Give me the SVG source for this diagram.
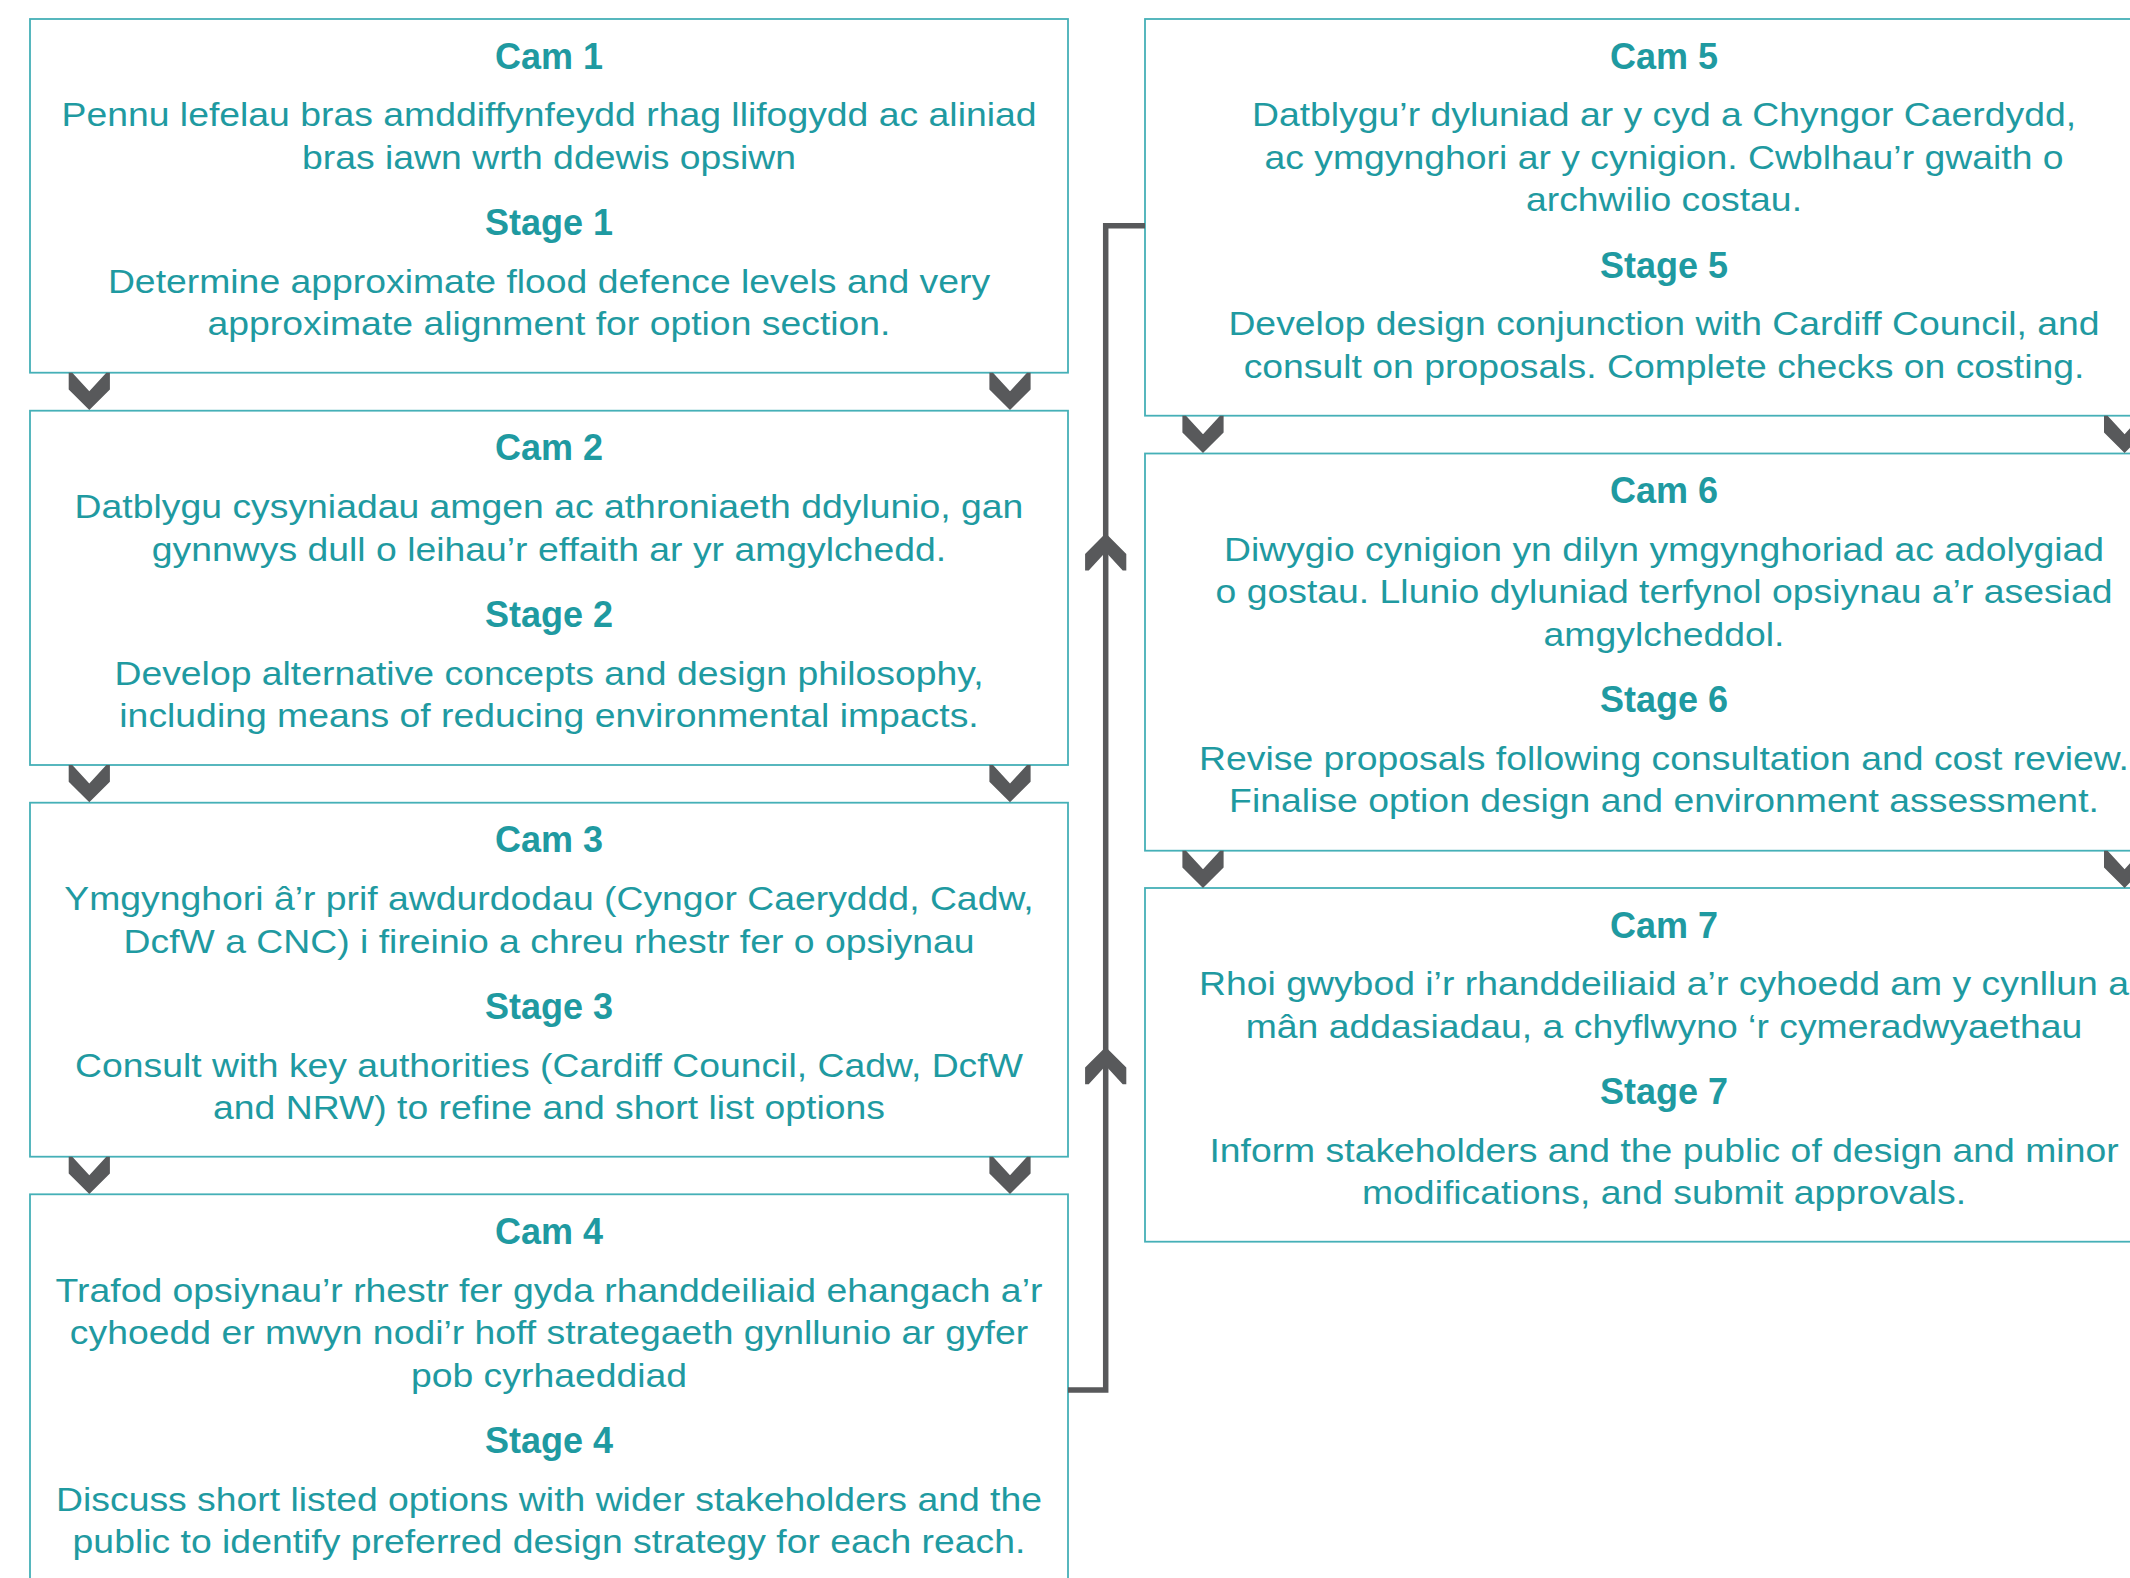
<svg xmlns="http://www.w3.org/2000/svg" xmlns:xlink="http://www.w3.org/1999/xlink" width="2130" height="1578" viewBox="0 0 2130 1578">
<style>
.box{fill:#ffffff;stroke:#45b0b7;stroke-width:1.8}
.t{font-family:"Liberation Sans",Arial,sans-serif;fill:#1f9aa1;text-anchor:middle}
.h{font-size:36px;font-weight:bold}
.b{font-size:33px}
.chev{fill:#58595b}
.conn{fill:none;stroke:#58595b;stroke-width:5.5;stroke-linejoin:miter}
</style>
<defs>
<path id="chev" d="M-20.6,0 V16.7 L0,37.3 L20.6,16.7 V0 H17 L0,18.5 L-17,0 Z"/>
</defs>
<rect width="2130" height="1578" fill="#ffffff"/>

<g id="node1">
<rect class="box" x="30" y="19" width="1038" height="353.7"/>
<text class="t h" x="549" y="68.7">Cam 1</text>
<g transform="translate(549,0) scale(1.132,1)">
<text class="t b" x="0" y="126.5">Pennu lefelau bras amddiffynfeydd rhag llifogydd ac aliniad</text>
<text class="t b" x="0" y="169">bras iawn wrth ddewis opsiwn</text>
</g>
<text class="t h" x="549" y="235">Stage 1</text>
<g transform="translate(549,0) scale(1.132,1)">
<text class="t b" x="0" y="293">Determine approximate flood defence levels and very</text>
<text class="t b" x="0" y="335.5">approximate alignment for option section.</text>
</g>
</g>

<g id="node2">
<rect class="box" x="30" y="410.7" width="1038" height="354.3"/>
<text class="t h" x="549" y="460.4">Cam 2</text>
<g transform="translate(549,0) scale(1.132,1)">
<text class="t b" x="0" y="518.2">Datblygu cysyniadau amgen ac athroniaeth ddylunio, gan</text>
<text class="t b" x="0" y="560.7">gynnwys dull o leihau’r effaith ar yr amgylchedd.</text>
</g>
<text class="t h" x="549" y="626.7">Stage 2</text>
<g transform="translate(549,0) scale(1.132,1)">
<text class="t b" x="0" y="684.7">Develop alternative concepts and design philosophy,</text>
<text class="t b" x="0" y="727.2">including means of reducing environmental impacts.</text>
</g>
</g>

<g id="node3">
<rect class="box" x="30" y="802.7" width="1038" height="354"/>
<text class="t h" x="549" y="852.4">Cam 3</text>
<g transform="translate(549,0) scale(1.132,1)">
<text class="t b" x="0" y="910.2">Ymgynghori â’r prif awdurdodau (Cyngor Caeryddd, Cadw,</text>
<text class="t b" x="0" y="952.7">DcfW a CNC) i fireinio a chreu rhestr fer o opsiynau</text>
</g>
<text class="t h" x="549" y="1018.7">Stage 3</text>
<g transform="translate(549,0) scale(1.132,1)">
<text class="t b" x="0" y="1076.7">Consult with key authorities (Cardiff Council, Cadw, DcfW</text>
<text class="t b" x="0" y="1119.2">and NRW) to refine and short list options</text>
</g>
</g>

<g id="node4">
<rect class="box" x="30" y="1194.3" width="1038" height="420"/>
<text class="t h" x="549" y="1244">Cam 4</text>
<g transform="translate(549,0) scale(1.132,1)">
<text class="t b" x="0" y="1301.8">Trafod opsiynau’r rhestr fer gyda rhanddeiliaid ehangach a’r</text>
<text class="t b" x="0" y="1344.3">cyhoedd er mwyn nodi’r hoff strategaeth gynllunio ar gyfer</text>
<text class="t b" x="0" y="1386.8">pob cyrhaeddiad</text>
</g>
<text class="t h" x="549" y="1452.8">Stage 4</text>
<g transform="translate(549,0) scale(1.132,1)">
<text class="t b" x="0" y="1510.8">Discuss short listed options with wider stakeholders and the</text>
<text class="t b" x="0" y="1553.3">public to identify preferred design strategy for each reach.</text>
</g>
</g>

<g id="node5">
<rect class="box" x="1145" y="19" width="1038" height="396.7"/>
<text class="t h" x="1664" y="68.7">Cam 5</text>
<g transform="translate(1664,0) scale(1.132,1)">
<text class="t b" x="0" y="126.5">Datblygu’r dyluniad ar y cyd a Chyngor Caerdydd,</text>
<text class="t b" x="0" y="169">ac ymgynghori ar y cynigion. Cwblhau’r gwaith o</text>
<text class="t b" x="0" y="211.5">archwilio costau.</text>
</g>
<text class="t h" x="1664" y="277.5">Stage 5</text>
<g transform="translate(1664,0) scale(1.132,1)">
<text class="t b" x="0" y="335.5">Develop design conjunction with Cardiff Council, and</text>
<text class="t b" x="0" y="378">consult on proposals. Complete checks on costing.</text>
</g>
</g>

<g id="node6">
<rect class="box" x="1145" y="453.5" width="1038" height="397.2"/>
<text class="t h" x="1664" y="503.2">Cam 6</text>
<g transform="translate(1664,0) scale(1.132,1)">
<text class="t b" x="0" y="561">Diwygio cynigion yn dilyn ymgynghoriad ac adolygiad</text>
<text class="t b" x="0" y="603.5">o gostau. Llunio dyluniad terfynol opsiynau a’r asesiad</text>
<text class="t b" x="0" y="646">amgylcheddol.</text>
</g>
<text class="t h" x="1664" y="712">Stage 6</text>
<g transform="translate(1664,0) scale(1.132,1)">
<text class="t b" x="0" y="770">Revise proposals following consultation and cost review.</text>
<text class="t b" x="0" y="812.5">Finalise option design and environment assessment.</text>
</g>
</g>

<g id="node7">
<rect class="box" x="1145" y="888" width="1038" height="353.7"/>
<text class="t h" x="1664" y="937.7">Cam 7</text>
<g transform="translate(1664,0) scale(1.132,1)">
<text class="t b" x="0" y="995.5">Rhoi gwybod i’r rhanddeiliaid a’r cyhoedd am y cynllun a</text>
<text class="t b" x="0" y="1038">mân addasiadau, a chyflwyno ‘r cymeradwyaethau</text>
</g>
<text class="t h" x="1664" y="1104">Stage 7</text>
<g transform="translate(1664,0) scale(1.132,1)">
<text class="t b" x="0" y="1162">Inform stakeholders and the public of design and minor</text>
<text class="t b" x="0" y="1204.5">modifications, and submit approvals.</text>
</g>
</g>

<g id="connectors">
<path class="conn" d="M1068,1390 H1105.7 V225.7 H1145"/>
<use href="#chev" class="chev" transform="translate(1105.7,570.6) rotate(180)"/>
<use href="#chev" class="chev" transform="translate(1105.7,1084.3) rotate(180)"/>
<use href="#chev" class="chev" x="89.3" y="372.7"/>
<use href="#chev" class="chev" x="1010" y="372.7"/>
<use href="#chev" class="chev" x="89.3" y="765"/>
<use href="#chev" class="chev" x="1010" y="765"/>
<use href="#chev" class="chev" x="89.3" y="1156.7"/>
<use href="#chev" class="chev" x="1010" y="1156.7"/>
<use href="#chev" class="chev" x="1203" y="415.7"/>
<use href="#chev" class="chev" x="2124.6" y="415.7"/>
<use href="#chev" class="chev" x="1203" y="850.7"/>
<use href="#chev" class="chev" x="2124.6" y="850.7"/>
</g>
</svg>
